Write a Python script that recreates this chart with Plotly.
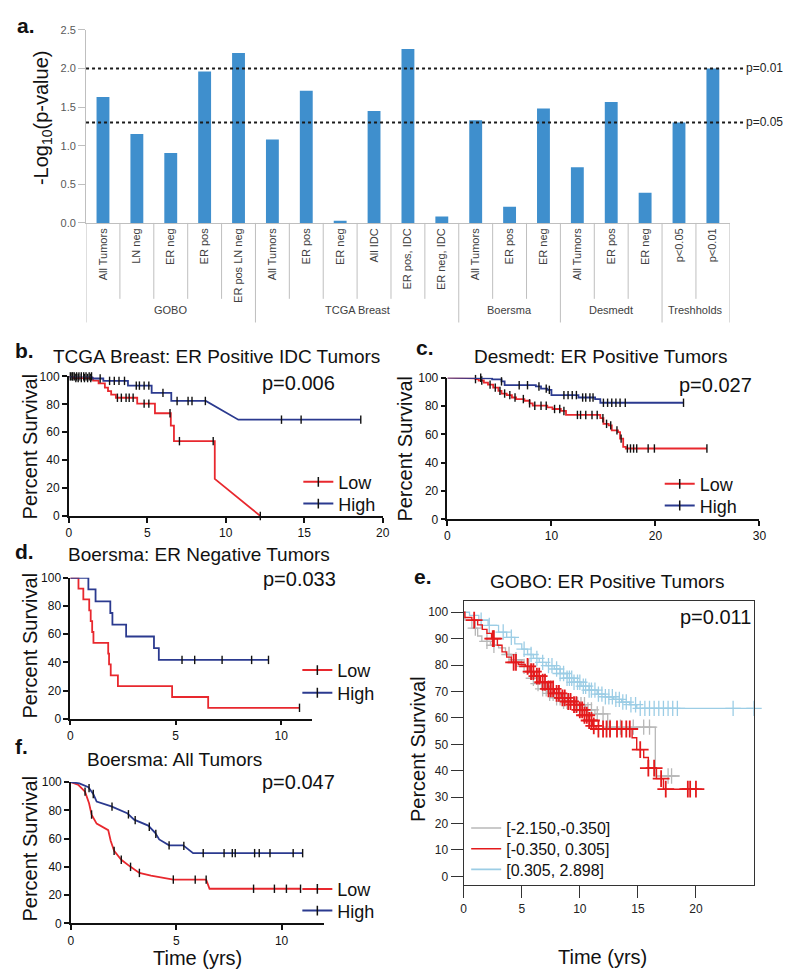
import numpy as np
import plotly.graph_objects as go

W, H = 793, 969

# ---------------- Panel a data ----------------
bar_groups = ["GOBO", "GOBO", "GOBO", "GOBO", "GOBO",
              "TCGA Breast", "TCGA Breast", "TCGA Breast", "TCGA Breast", "TCGA Breast", "TCGA Breast",
              "Boersma", "Boersma", "Boersma",
              "Desmedt", "Desmedt", "Desmedt",
              "Treshholds", "Treshholds"]
bar_labels = ["All Tumors", "LN neg", "ER neg", "ER pos", "ER pos LN neg",
              "All Tumors", "ER pos", "ER neg", "All IDC", "ER pos, IDC", "ER neg, IDC",
              "All Tumors", "ER pos", "ER neg",
              "All Tumors", "ER pos", "ER neg",
              "p<0.05", "p<0.01"]
bar_values = [1.63, 1.15, 0.905, 1.96, 2.20,
              1.08, 1.71, 0.03, 1.45, 2.25, 0.085,
              1.33, 0.21, 1.48,
              0.72, 1.565, 0.39,
              1.30, 2.0]
threshold_p = [0.01, 0.05]
ytick_a = [0.0, 0.5, 1.0, 1.5, 2.0, 2.5]

# ---------------- Panel b: TCGA Breast ER+ IDC ----------------
b_low_times = [0, 0.3, 1.55, 1.9, 2.3, 2.5, 2.7, 3.0, 4.36, 5.49, 6.5, 6.7, 9.3]
b_low_surv = [100, 98.8, 97.0, 95.0, 92.0, 89.5, 87.0, 84.7, 80.5, 73.6, 64.7, 53.6, 26.6]
b_low_tail_t = [12.2]
b_low_tail_s = [0]
b_low_cens = [0.1, 0.25, 0.45, 0.6, 0.8, 1.0, 1.2, 1.4, 3.1, 3.35, 3.65, 3.85, 4.1,
              4.8, 5.1, 6.45, 7.05, 9.2, 12.2]
b_high_times = [0, 1.5, 2.2, 3.77, 5.28, 6.53]
b_high_surv = [100, 98.5, 96.8, 93.4, 88.2, 82.4]
b_high_tail_t = [8.73, 10.8, 18.6]
b_high_tail_s = [82.4, 69.0, 69.0]
b_high_cens = [0.2, 0.35, 0.5, 0.65, 0.8, 0.95, 1.1, 1.3, 1.45, 2.0, 2.6, 2.9, 3.2, 3.55,
               4.3, 4.5, 4.8, 5.1, 6.0, 6.9, 7.6, 7.85, 8.7, 13.55, 14.8, 18.6]

# ---------------- Panel c: Desmedt ER+ ----------------
c_low_times = [0, 2.05, 2.7, 3.0, 3.5, 3.9, 4.4, 4.9, 5.2, 5.7, 6.2, 6.6, 7.4, 7.9, 8.2,
               9.6, 10.1, 10.9, 11.4, 14.7, 15.0, 15.5, 15.8, 16.4, 16.6, 16.9, 17.15]
c_low_surv = [100, 99.5, 99.0, 98.0, 96.5, 95.1, 93.0, 90.7, 88.8, 87.7, 86.0, 84.9, 83.7, 81.9, 80.2,
              79.0, 77.9, 76.5, 73.7, 71.4, 67.4, 66.3, 62.8, 61.6, 57.0, 51.2, 50.0]
c_low_end = 24.95
c_low_cens = [2.7, 3.3, 4.1, 4.6, 5.05, 5.5, 6.0, 6.5, 7.3, 7.9, 8.4, 9.0, 9.5, 10.3, 10.8,
              11.2, 12.5, 12.8, 13.3, 13.9, 14.4, 14.95, 15.3, 15.7, 16.3, 16.7, 17.3, 17.6,
              17.9, 18.2, 19.3, 19.9, 24.95]
c_high_times = [0, 3.3, 4.3, 5.2, 5.5, 8.5, 9.0, 9.6, 10.0, 12.6, 14.2, 14.7]
c_high_surv = [100, 99.5, 98.8, 97.4, 94.7, 93.8, 92.3, 91.4, 87.7, 86.0, 84.9, 82.3]
c_high_end = 22.7
c_high_cens = [3.2, 5.2, 6.9, 7.7, 8.8, 9.5, 9.8, 11.2, 11.6, 12.0, 12.4, 13.0, 13.3,
               13.7, 14.0, 15.0, 15.4, 15.8, 16.2, 16.6, 17.1, 22.7]

# ---------------- Panel d: Boersma ER- ----------------
d_low_times = [0, 0.39, 0.62, 0.9, 0.97, 1.04, 1.1, 1.8, 1.84, 1.92, 2.26, 4.83, 6.54]
d_low_surv = [100, 92.3, 84.6, 76.9, 69.2, 61.5, 53.8, 46.2, 38.5, 30.8, 23.1, 15.4, 7.7]
d_low_end = 10.87
d_low_cens = [10.87]
d_high_times = [0, 0.86, 1.2, 1.9, 2.0, 2.65, 3.97, 4.2]
d_high_surv = [100, 91.7, 83.3, 75.0, 66.7, 58.3, 50.0, 41.7]
d_high_end = 9.4
d_high_cens = [5.3, 5.9, 7.2, 8.6, 9.4]

# ---------------- Panel e: GOBO ER+ ----------------
e_low_times = [0, 0.1, 0.7, 1.2, 1.56, 2.3, 3.0, 3.6, 4.1, 5.0, 5.8, 6.3, 6.7, 7.2, 7.8,
               8.6, 9.5, 10.5, 11.3, 12.4, 16.5]
e_low_surv = [100, 97.0, 94.0, 91.0, 89.0, 87.5, 86.5, 84.0, 82.0, 79.5, 75.0, 73.0, 71.0, 69.3,
              67.6, 66.3, 65.0, 63.0, 61.5, 56.5, 38.0]
e_low_end = 18.6
e_low_cens = [1.0, 2.0, 2.6, 3.9, 4.5, 5.2, 5.6, 6.0, 6.4, 6.8, 7.1, 7.4, 7.7, 8.0, 8.3, 8.6,
              8.9, 9.2, 9.5, 9.8, 10.1, 10.4, 10.7, 11.0, 11.5, 12.0, 12.6, 13.5, 14.6, 15.5,
              16.0, 17.6, 17.9]
e_mid_times = [0, 0.1, 0.7, 1.2, 1.6, 2.0, 2.4, 2.9, 3.3, 3.7, 4.1, 4.7, 5.3, 5.7, 6.1, 6.6,
               7.2, 7.8, 8.4, 9.0, 9.5, 10.0, 10.4, 10.8, 11.1, 11.4, 14.5, 14.9, 15.5, 15.9,
               16.6, 17.2]
e_mid_surv = [100, 98.0, 97.0, 95.2, 93.5, 92.0, 90.0, 87.5, 85.0, 83.0, 81.0, 80.2, 79.5, 77.5,
              75.8, 73.5, 71.0, 69.3, 67.6, 66.2, 65.0, 63.0, 61.0, 59.0, 57.0, 55.8, 52.5,
              48.0, 45.0, 41.0, 37.0, 33.0]
e_mid_end = 20.5
e_mid_cens = [0.9, 2.5, 2.6, 4.3, 4.5, 5.5, 5.8, 6.0, 6.3, 6.5, 6.8, 7.0, 7.3, 7.5, 7.7, 8.0,
              8.2, 8.5, 8.7, 9.0, 9.2, 9.5, 9.7, 10.0, 10.2, 10.4, 10.6, 10.8, 11.0, 11.2,
              11.6, 12.0, 12.3, 12.6, 13.2, 13.6, 14.0, 14.3, 15.2, 15.9, 16.4, 17.0, 17.4,
              19.3, 19.5, 20.0]
e_high_times = [0, 0.5, 1.3, 2.1, 3.0, 3.7, 4.4, 5.0, 5.5, 6.0, 6.5, 7.1, 7.8, 8.3, 8.9, 9.5,
                10.1, 10.8, 11.5, 12.2, 12.9, 13.6, 14.3, 14.9]
e_high_surv = [100, 98.8, 97.0, 95.0, 92.5, 90.5, 88.0, 86.0, 84.0, 82.5, 81.0, 79.8, 78.5,
               76.8, 75.0, 73.5, 72.0, 70.5, 69.0, 68.0, 67.0, 66.0, 65.0, 63.6]
e_high_end = 25.0
e_high_cens = [1.5, 2.2, 3.4, 4.1, 5.2, 5.8, 6.3, 6.8, 7.3, 7.6, 8.0, 8.3, 8.6, 8.9, 9.1, 9.3,
               9.5, 9.8, 10.0, 10.3, 10.5, 10.8, 11.0, 11.3, 11.6, 11.9, 12.2, 12.5, 12.8,
               13.1, 13.4, 13.7, 14.0, 14.4, 14.8, 15.2, 15.6, 16.0, 16.4, 16.8, 17.2, 17.6,
               18.0, 18.4, 23.2, 25.0]
e_legend_names = ["[-2.150,-0.350]", "[-0.350, 0.305]", "[0.305, 2.898]"]

# ---------------- Panel f: Boersma all ----------------
f_low_t = [0, 0.36, 0.67, 0.86, 0.98, 1.22, 1.77, 1.89, 2.05, 2.39, 2.83, 3.25, 3.8, 4.86,
           6.42, 6.58, 10.9]
f_low_s = [100, 97.9, 93.2, 85.0, 77.0, 70.6, 66.0, 58.3, 51.3, 45.0, 40.0, 35.7, 33.8, 31.0,
           31.0, 24.5, 24.5]
f_low_cens = [0.67, 0.98, 2.05, 2.39, 2.83, 3.25, 4.86, 5.9, 6.42, 8.67, 9.66, 10.23, 10.9]
f_high_t = [0, 0.4, 0.83, 1.06, 1.22, 1.92, 2.67, 3.0, 3.67, 4.0, 4.19, 4.66, 5.33, 5.8, 11.0]
f_high_s = [100, 99.0, 96.3, 91.6, 86.2, 82.8, 78.0, 73.4, 69.2, 64.1, 59.4, 55.2, 55.2, 49.7, 49.7]
f_high_cens = [0.86, 1.06, 1.95, 2.73, 3.05, 3.72, 4.03, 4.66, 5.36, 6.28, 7.27, 7.66, 7.8,
               8.72, 8.94, 9.45, 10.55, 11.0]

RED = "#E8282E"
BLUE = "#2B3A8F"
E_GRAY = "#B8B8B8"
E_RED = "#E41A1C"
E_BLUE = "#9CCDE5"
BAR = "#3F8FCD"
FONT = "Liberation Sans, Arial, sans-serif"


def px(x):
    return x / W


def py(y):
    return 1 - y / H


def dom_x(a, b):
    return [a / W, b / W]


def dom_y(top, bottom):
    return [1 - bottom / H, 1 - top / H]


def km_xy(times, surv, end_t=None, tail_t=(), tail_s=()):
    xs, ys = [times[0]], [surv[0]]
    for i in range(1, len(times)):
        xs += [times[i], times[i]]
        ys += [surv[i - 1], surv[i]]
    if end_t is not None:
        xs.append(end_t)
        ys.append(surv[-1])
    xs += list(tail_t)
    ys += list(tail_s)
    return xs, ys


fig = go.Figure()


def add_km(xs, ys, cens, color, xa, ya, width=1.8, cens_color="#111", symbol="line-ns",
           msize=6, mwidth=1.4):
    fig.add_trace(go.Scatter(x=xs, y=ys, mode="lines", line=dict(color=color, width=width),
                             xaxis=xa, yaxis=ya, showlegend=False, cliponaxis=False,
                             hoverinfo="skip"))
    cy = np.interp(cens, xs, ys)
    fig.add_trace(go.Scatter(x=cens, y=cy, mode="markers",
                             marker=dict(symbol=symbol, size=msize, color=cens_color,
                                         line=dict(width=mwidth, color=cens_color)),
                             xaxis=xa, yaxis=ya, showlegend=False, cliponaxis=False,
                             hoverinfo="skip"))


def add_legend_item(name, color, lg, xa, ya, tick=True, width=2):
    fig.add_trace(go.Scatter(
        x=[None], y=[None], mode="lines+markers" if tick else "lines", name=name,
        line=dict(color=color, width=width),
        marker=dict(symbol="line-ns", size=7, line=dict(width=1.5, color="#111")),
        legend=lg, xaxis=xa, yaxis=ya, showlegend=True))


# ---- Panel a bars ----
fig.add_trace(go.Bar(x=list(range(len(bar_values))), y=bar_values, width=0.38,
                     marker=dict(color=BAR, line=dict(width=0)), xaxis="x", yaxis="y",
                     showlegend=False, hoverinfo="skip"))

# ---- Panel b ----
xs, ys = km_xy(b_low_times, b_low_surv, None, b_low_tail_t, b_low_tail_s)
add_km(xs, ys, b_low_cens, RED, "x2", "y2")
xs, ys = km_xy(b_high_times, b_high_surv, None, b_high_tail_t, b_high_tail_s)
add_km(xs, ys, b_high_cens, BLUE, "x2", "y2")
# ---- Panel c ----
xs, ys = km_xy(c_low_times, c_low_surv, c_low_end)
add_km(xs, ys, c_low_cens, RED, "x3", "y3")
xs, ys = km_xy(c_high_times, c_high_surv, c_high_end)
add_km(xs, ys, c_high_cens, BLUE, "x3", "y3")
# ---- Panel d ----
xs, ys = km_xy(d_low_times, d_low_surv, d_low_end)
add_km(xs, ys, d_low_cens, RED, "x4", "y4")
xs, ys = km_xy(d_high_times, d_high_surv, d_high_end)
add_km(xs, ys, d_high_cens, BLUE, "x4", "y4")
# ---- Panel e ----
xs, ys = km_xy(e_high_times, e_high_surv, e_high_end)
add_km(xs, ys, e_high_cens, E_BLUE, "x5", "y5", width=1.3, cens_color=E_BLUE,
       symbol="cross-thin", msize=11, mwidth=1.3)
xs, ys = km_xy(e_low_times, e_low_surv, e_low_end)
add_km(xs, ys, e_low_cens, E_GRAY, "x5", "y5", width=1.3, cens_color=E_GRAY,
       symbol="cross-thin", msize=11, mwidth=1.3)
xs, ys = km_xy(e_mid_times, e_mid_surv, e_mid_end)
add_km(xs, ys, e_mid_cens, E_RED, "x5", "y5", width=1.4, cens_color=E_RED,
       symbol="cross-thin", msize=12, mwidth=1.8)
# ---- Panel f ----
add_km(f_low_t, f_low_s, f_low_cens, RED, "x6", "y6")
add_km(f_high_t, f_high_s, f_high_cens, BLUE, "x6", "y6")

# ---- legends (one per entry so rows sit as in the original) ----
legend_specs = [
    ("Low", RED, "legend2", "x2", "y2", 303, 474, True, 18),
    ("High", BLUE, "legend3", "x2", "y2", 303, 496, True, 18),
    ("Low", RED, "legend4", "x3", "y3", 669, 476, True, 18),
    ("High", BLUE, "legend5", "x3", "y3", 669, 498, True, 18),
    ("Low", RED, "legend6", "x4", "y4", 302, 665, True, 18),
    ("High", BLUE, "legend7", "x4", "y4", 302, 688, True, 18),
    ("Low", RED, "legend8", "x6", "y6", 302, 887, True, 18),
    ("High", BLUE, "legend9", "x6", "y6", 302, 909, True, 18),
    (e_legend_names[0], E_GRAY, "legend10", "x5", "y5", 473, 825, False, 16),
    (e_legend_names[1], E_RED, "legend11", "x5", "y5", 473, 846, False, 16),
    (e_legend_names[2], E_BLUE, "legend12", "x5", "y5", 473, 867, False, 16),
]
legend_layout = {}
for name, color, lg, xa, ya, lx, ly, tick, fs in legend_specs:
    add_legend_item(name, color, lg, xa, ya, tick=tick, width=2 if tick else 1.6)
    legend_layout[lg] = dict(x=px(lx - 12), y=py(ly), xanchor="left", yanchor="middle",
                             bgcolor="rgba(0,0,0,0)", borderwidth=0,
                             font=dict(size=fs, color="#111", family=FONT),
                             itemwidth=30, tracegroupgap=0)

# ---- axes ----
nog = dict(showgrid=False, zeroline=False, fixedrange=True)
km_tick = dict(ticks="outside", ticklen=5, tickwidth=1.5, tickcolor="#111", showline=True,
               linecolor="#111", linewidth=1.5, tickfont=dict(size=12, color="#111", family=FONT))

layout = dict(
    width=W, height=H, margin=dict(l=0, r=0, t=0, b=0),
    paper_bgcolor="white", plot_bgcolor="rgba(0,0,0,0)",
    font=dict(family=FONT, color="#111"),
    xaxis=dict(domain=dom_x(76, 728), range=[-0.5, len(bar_values) - 0.5], tickmode="array",
               tickvals=list(range(len(bar_labels))), ticktext=bar_labels, tickangle=-90,
               ticks="", showline=True, linecolor="#BFBFBF", linewidth=1,
               tickfont=dict(size=11, color="#404040", family=FONT), anchor="y", **nog),
    yaxis=dict(domain=dom_y(15, 211), range=[0, 2.5], tickmode="array", tickvals=ytick_a,
               ticktext=[f"{v:.1f}" for v in ytick_a], ticks="outside", ticklen=7,
               tickcolor="#BFBFBF", showline=True, linecolor="#BFBFBF",
               tickfont=dict(size=11, color="#595959", family=FONT),
               anchor="x", **nog),
    xaxis2=dict(domain=dom_x(58.5, 376.5), range=[0, 20], dtick=5, anchor="y2", **km_tick, **nog),
    yaxis2=dict(domain=dom_y(366.7, 508.3), range=[0, 100], dtick=20, anchor="x2", **km_tick, **nog),
    xaxis3=dict(domain=dom_x(442, 758), range=[0, 30], dtick=10, anchor="y3", **km_tick, **nog),
    yaxis3=dict(domain=dom_y(368, 511.7), range=[0, 100], dtick=20, anchor="x3", **km_tick, **nog),
    xaxis4=dict(domain=dom_x(60, 305), range=[0, 11.47], tickvals=[0, 5, 10], anchor="y4",
                **km_tick, **nog),
    yaxis4=dict(domain=dom_y(571, 714), range=[0, 100], dtick=20, anchor="x4", **km_tick, **nog),
    xaxis5=dict(domain=dom_x(458.5, 752.5), range=[0, 25], tickvals=[0, 5, 10, 15, 20],
                anchor="y5", ticks="outside", ticklen=12, tickwidth=1.2, tickcolor="#333",
                showline=True, mirror=True, linecolor="#333", linewidth=1.2,
                tickfont=dict(size=12, color="#222", family=FONT), **nog),
    yaxis5=dict(domain=dom_y(595, 883), range=[-3.36, 104.1],
                tickvals=[0, 10, 20, 30, 40, 50, 60, 70, 80, 90, 100], anchor="x5",
                ticks="outside", ticklen=12, tickwidth=1.2, tickcolor="#333",
                showline=True, mirror=True, linecolor="#333", linewidth=1.2,
                tickfont=dict(size=12, color="#222", family=FONT), **nog),
    xaxis6=dict(domain=dom_x(60.7, 316.7), range=[0, 12], tickvals=[0, 5, 10], anchor="y6",
                **km_tick, **nog),
    yaxis6=dict(domain=dom_y(778.3, 921.7), range=[0, 100], dtick=20, anchor="x6", **km_tick, **nog),
)
layout.update(legend_layout)

# ---- shapes for panel a ----
shapes = []
n = len(bar_labels)
for i in range(n + 1):
    is_group = i == 0 or i == n or bar_groups[i] != bar_groups[i - 1]
    shapes.append(dict(type="line", xref="x", yref="paper", x0=i - 0.5, x1=i - 0.5,
                       y0=py(211), y1=py(312 if is_group else 288),
                       line=dict(color="#BFBFBF", width=1)))
annotations = []
for p in threshold_p:
    yv = -np.log10(p)
    shapes.append(dict(type="line", xref="paper", yref="y", x0=px(76), x1=px(743), y0=yv, y1=yv,
                       line=dict(color="#1A1A1A", width=2, dash="dot")))
    annotations.append(dict(text=f"p={p}", xref="paper", yref="y", x=px(742), y=yv,
                            xanchor="left", yanchor="middle", showarrow=False,
                            font=dict(size=12, color="#222", family=FONT)))

# group labels
groups_seen = []
for g in bar_groups:
    if g not in groups_seen:
        groups_seen.append(g)
for g in groups_seen:
    idx = [i for i, gg in enumerate(bar_groups) if gg == g]
    annotations.append(dict(text=g, xref="x", yref="paper", x=float(np.mean(idx)), y=py(299),
                            xanchor="center", yanchor="middle", showarrow=False,
                            font=dict(size=11, color="#404040", family=FONT)))


def ann(text, x, y, size=19, xanchor="center", yanchor="middle", bold=False, angle=0,
        color="#111"):
    annotations.append(dict(text=f"<b>{text}</b>" if bold else text, xref="paper", yref="paper",
                            x=px(x), y=py(y), xanchor=xanchor, yanchor=yanchor, showarrow=False,
                            textangle=angle, font=dict(size=size, color=color, family=FONT)))


# panel letters
ann("a.", 4, 11, size=21, xanchor="left", bold=True)
ann("b.", 2, 340, size=21, xanchor="left", bold=True)
ann("c.", 408, 337, size=21, xanchor="left", bold=True)
ann("d.", 2, 544, size=21, xanchor="left", bold=True)
ann("e.", 406, 570, size=21, xanchor="left", bold=True)
ann("f.", 2, 742, size=21, xanchor="left", bold=True)

# titles
ann("TCGA Breast: ER Positive IDC Tumors", 208, 347, size=19)
ann("Desmedt: ER Positive Tumors", 597, 346, size=19)
ann("Boersma: ER Negative Tumors", 190, 547, size=19)
ann("GOBO: ER Positive Tumors", 604, 575, size=19)
ann("Boersma: All Tumors", 166, 755, size=19)

# p values
ann("p=0.006", 252, 373, size=20, xanchor="left")
ann("p=0.027", 675, 375, size=20, xanchor="left")
ann("p=0.033", 253, 572, size=20, xanchor="left")
ann("p=0.011", 751, 611, size=20, xanchor="right")
ann("p=0.047", 252, 778, size=20, xanchor="left")

# axis titles
ann("-Log<sub>10</sub>(p-value)", 32, 104, size=20, angle=-90)
ann("Percent Survival", 19, 438, size=20, angle=-90)
ann("Percent Survival", 399, 440, size=20, angle=-90)
ann("Percent Survival", 19, 640, size=20, angle=-90)
ann("Percent Survival", 19, 846, size=20, angle=-90)
ann("Percent Survival", 412, 745, size=20, angle=-90)
ann("Time (yrs)", 189, 957, size=20)
ann("Time (yrs)", 599, 956, size=20)

layout["shapes"] = shapes
layout["annotations"] = annotations
fig.update_layout(**layout)

fig.write_html("out.html")
